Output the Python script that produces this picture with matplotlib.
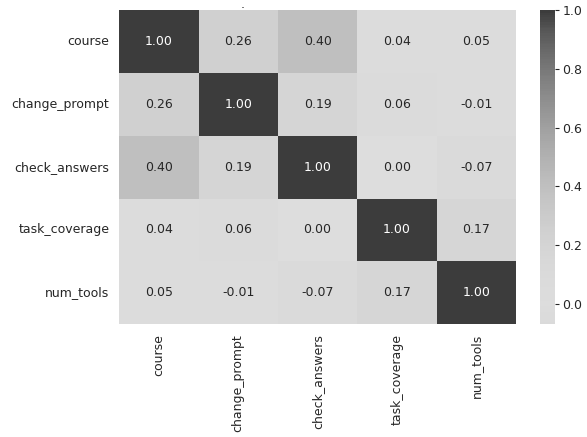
import numpy as np
import pandas as pd
import matplotlib
matplotlib.use("Agg")
import matplotlib.pyplot as plt
from matplotlib.colors import ListedColormap
import seaborn as sns

labels = ["course", "change_prompt", "check_answers", "task_coverage", "num_tools"]
course = [1.00, 0.26, 0.40, 0.04, 0.05]
change_prompt = [0.26, 1.00, 0.19, 0.06, -0.01]
check_answers = [0.40, 0.19, 1.00, 0.00, -0.07]
task_coverage = [0.04, 0.06, 0.00, 1.00, 0.17]
num_tools = [0.05, -0.01, -0.07, 0.17, 1.00]

corr = pd.DataFrame(
    [course, change_prompt, check_answers, task_coverage, num_tools],
    index=labels, columns=labels,
)

# grayscale version of coolwarm (luminance of each colour)
cw = matplotlib.colormaps["coolwarm"](np.linspace(0, 1, 256))
lum = 0.299 * cw[:, 0] + 0.587 * cw[:, 1] + 0.114 * cw[:, 2]
gray_cmap = ListedColormap(np.column_stack([lum, lum, lum, np.ones_like(lum)]))

sns.set_style("white")
plt.rcParams["font.size"] = 9

fig = plt.figure(figsize=(5.87, 4.37), dpi=100)
ax = fig.add_axes([0.203, 0.258, 0.676, 0.719])
cax = fig.add_axes([0.920, 0.258, 0.026, 0.719])

sns.heatmap(corr, annot=True, fmt=".2f", cmap=gray_cmap, center=0,
            ax=ax, cbar_ax=cax, annot_kws={"size": 9})
ax.tick_params(labelsize=9)
cax.tick_params(labelsize=9, length=3, pad=2)
fig.text(0.414, 1 - 7.5 / 437, ".", ha="center", va="baseline", fontsize=9)

fig.savefig("out.png", dpi=100)
